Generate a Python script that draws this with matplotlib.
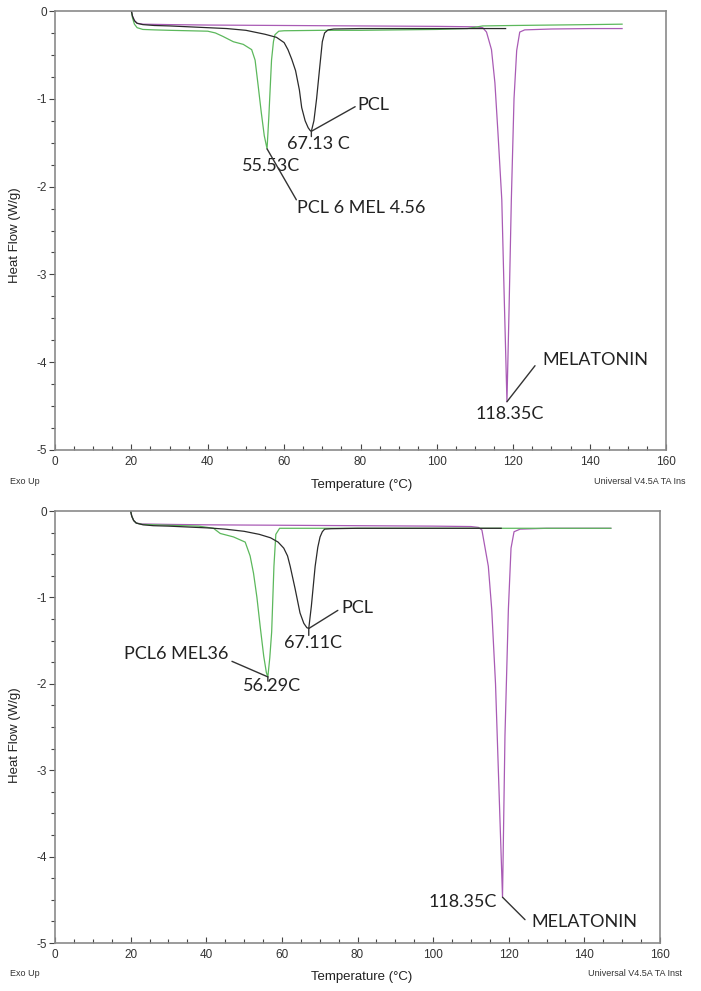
import matplotlib
matplotlib.use("Agg")
import matplotlib.pyplot as plt
import numpy as np

# ---------------- data ----------------
# Top panel
top_pcl_T = [20, 20.3, 20.8, 21.5, 23, 26, 30, 35, 40, 45, 50, 55, 58, 60, 61, 62, 63, 64, 64.6, 65.5, 66.3, 66.8, 67.13,
             67.8, 68.5, 69.3, 70.0, 70.6, 71.5, 73, 80, 90, 100, 110, 118]
top_pcl_H = [0, -0.06, -0.11, -0.14, -0.155, -0.165, -0.17, -0.18, -0.19, -0.2, -0.22, -0.265, -0.3, -0.36, -0.44, -0.55, -0.68, -0.9, -1.1, -1.25, -1.33, -1.36, -1.37,
             -1.25, -1.0, -0.65, -0.35, -0.25, -0.215, -0.205, -0.2, -0.2, -0.2, -0.2, -0.2]

top_mix_T = [20, 20.3, 20.8, 21.5, 23, 26, 30, 35, 40, 42, 44, 46.7, 49.3, 51.5, 52.4, 53.2, 54.0, 54.8, 55.53,
             56.0, 56.7, 57.2, 57.6, 58.6, 60, 70, 80, 90, 100, 108, 112, 120, 130, 140, 148.5]
top_mix_H = [0, -0.08, -0.15, -0.19, -0.21, -0.215, -0.22, -0.225, -0.23, -0.25, -0.29, -0.35, -0.38, -0.44, -0.56, -0.85, -1.15, -1.42, -1.57,
             -1.2, -0.56, -0.35, -0.27, -0.23, -0.225, -0.22, -0.22, -0.215, -0.21, -0.2, -0.17, -0.165, -0.16, -0.155, -0.15]

top_mel_T = [20, 20.3, 20.8, 21.5, 23, 30, 40, 60, 80, 100, 110, 112, 113, 114.3, 115.2, 116, 117, 117.6, 118.35,
             118.9, 119.5, 120.2, 120.9, 121.7, 123, 130, 140, 148.5]
top_mel_H = [0, -0.06, -0.11, -0.14, -0.15, -0.155, -0.16, -0.165, -0.17, -0.175, -0.18, -0.19, -0.24, -0.44, -0.82, -1.39, -2.15, -3.2, -4.45,
             -3.4, -2.15, -1.0, -0.45, -0.24, -0.215, -0.205, -0.2, -0.2]

# Bottom panel
bot_pcl_T = [20, 20.3, 20.8, 21.5, 23.3, 26, 30, 35, 41, 45, 50, 54, 57, 59, 60.5, 61.5, 62.2, 63.5, 64.8, 65.8, 66.6, 67.11,
             67.8, 68.8, 69.5, 70.1, 70.7, 71.3, 73, 80, 90, 100, 110, 118]
bot_pcl_H = [0, -0.06, -0.11, -0.14, -0.16, -0.17, -0.175, -0.185, -0.197, -0.21, -0.235, -0.27, -0.31, -0.36, -0.43, -0.52, -0.64, -0.9, -1.18, -1.3, -1.35, -1.36,
             -1.1, -0.64, -0.42, -0.3, -0.24, -0.21, -0.205, -0.2, -0.2, -0.2, -0.2, -0.2]

bot_mix_T = [20, 20.3, 20.8, 21.5, 23, 30, 38, 41.9, 43.7, 47.2, 50.3, 51.6, 52.5, 53.4, 54.3, 55.2, 55.9, 56.29,
             56.8, 57.3, 57.9, 58.4, 59.4, 62, 70, 80, 90, 100, 110, 120, 130, 140, 147]
bot_mix_H = [0, -0.06, -0.11, -0.14, -0.155, -0.165, -0.175, -0.2, -0.26, -0.3, -0.36, -0.52, -0.72, -1.0, -1.35, -1.68, -1.87, -1.92,
             -1.7, -1.4, -0.64, -0.27, -0.2, -0.2, -0.2, -0.2, -0.2, -0.2, -0.2, -0.2, -0.2, -0.2, -0.2]

bot_mel_T = [20, 20.3, 20.8, 21.5, 23, 30, 40, 60, 80, 100, 110, 112, 112.9, 114.6, 115.5, 116.5, 117.4, 118.35,
             119.0, 119.9, 120.6, 121.4, 123, 130, 140, 147]
bot_mel_H = [0, -0.06, -0.11, -0.14, -0.15, -0.155, -0.16, -0.165, -0.17, -0.175, -0.18, -0.19, -0.22, -0.64, -1.14, -2.0, -3.2, -4.47,
             -2.6, -1.14, -0.43, -0.24, -0.21, -0.2, -0.2, -0.2]

x_ticks = [0, 20, 40, 60, 80, 100, 120, 140, 160]
y_ticks = [0, -1, -2, -3, -4, -5]

# ---------------- styling ----------------
BLACK = "#2b2b2b"
GREEN = "#5cb85c"
MAGENTA = "#a95bb5"
SPINE = "#8a8a8a"
ANN_FONT = ["Lato", "DejaVu Sans"]
TICK_FONT = ["Liberation Sans", "DejaVu Sans"]

W, H = 701, 991
fig = plt.figure(figsize=(W / 100, H / 100), dpi=100)


def px_axes(l, t, r, b):
    return fig.add_axes([l / W, 1 - b / H, (r - l) / W, (b - t) / H])


def style(ax):
    ax.set_xlim(0, 160)
    ax.set_ylim(-5, 0)
    ax.set_xticks(x_ticks)
    ax.set_xticks(np.arange(0, 161, 5), minor=True)
    ax.set_yticks(y_ticks)
    ax.set_yticks(np.arange(-5, 0.01, 0.25), minor=True)
    ax.set_yticklabels([str(v) for v in y_ticks])
    for s in ax.spines.values():
        s.set_color(SPINE)
        s.set_linewidth(1.2)
    ax.tick_params(axis="x", which="both", direction="in", color="#444444", width=0.8, pad=4)
    ax.tick_params(axis="x", which="major", length=4)
    ax.tick_params(axis="x", which="minor", length=3)
    ax.tick_params(axis="y", which="both", direction="out", color="#444444", width=0.8, pad=2)
    ax.tick_params(axis="y", which="major", length=4)
    ax.tick_params(axis="y", which="minor", length=3)
    for lab in ax.get_xticklabels() + ax.get_yticklabels():
        lab.set_fontfamily(TICK_FONT)
        lab.set_fontsize(8.5)
        lab.set_color("#333333")


def ann_text(ax, x, y, s, ha="left"):
    ax.text(x, y, s, ha=ha, va="center", fontsize=13, family=ANN_FONT, color="#222222")


def leader(ax, p0, p1):
    ax.annotate("", xy=p0, xytext=p1,
                arrowprops=dict(arrowstyle="-", color="#333333", lw=1.0, shrinkA=0, shrinkB=0))


def fig_labels(y_base_px, y_mid_px, universal_x, universal_text):
    fig.text(10 / W, 1 - y_base_px / H, "Exo Up", fontsize=6.5, family=TICK_FONT, va="center", color="#333333")
    fig.text(362 / W, 1 - (y_base_px + 3) / H, "Temperature (°C)", fontsize=9.5, family=TICK_FONT,
             ha="center", va="center", color="#222222")
    fig.text(universal_x / W, 1 - y_base_px / H, universal_text, fontsize=6.5, family=TICK_FONT,
             va="center", color="#333333")
    fig.text(15 / W, 1 - y_mid_px / H, "Heat Flow (W/g)", fontsize=9.5, family=TICK_FONT, rotation=90,
             ha="center", va="center", color="#222222")


# ---------------- top panel ----------------
ax1 = px_axes(55, 11, 666, 450)
ax1.plot(top_mel_T, top_mel_H, color=MAGENTA, lw=0.9)
ax1.plot(top_mix_T, top_mix_H, color=GREEN, lw=0.9)
ax1.plot(top_pcl_T, top_pcl_H, color=BLACK, lw=0.9)
style(ax1)

leader(ax1, (67.13, -1.37), (78.6, -1.09))
ann_text(ax1, 79.1, -1.07, "PCL")
leader(ax1, (67.13, -1.37), (67.13, -1.43))
ann_text(ax1, 60.7, -1.51, "67.13 C")
ann_text(ax1, 49.0, -1.77, "55.53C")
leader(ax1, (55.53, -1.57), (63.2, -2.15))
ann_text(ax1, 63.4, -2.24, "PCL 6 MEL 4.56")
leader(ax1, (118.35, -4.45), (125.7, -4.04))
ann_text(ax1, 127.7, -3.97, "MELATONIN")
ann_text(ax1, 110.0, -4.59, "118.35C")

fig_labels(482, 235, 594, "Universal V4.5A TA Ins")

# ---------------- bottom panel ----------------
ax2 = px_axes(55, 511, 660, 943)
ax2.plot(bot_mel_T, bot_mel_H, color=MAGENTA, lw=0.9)
ax2.plot(bot_mix_T, bot_mix_H, color=GREEN, lw=0.9)
ax2.plot(bot_pcl_T, bot_pcl_H, color=BLACK, lw=0.9)
style(ax2)

leader(ax2, (67.11, -1.36), (74.8, -1.15))
ann_text(ax2, 75.7, -1.12, "PCL")
leader(ax2, (67.11, -1.36), (67.11, -1.44))
ann_text(ax2, 60.6, -1.53, "67.11C")
ann_text(ax2, 45.8, -1.66, "PCL6 MEL36", ha="right")
leader(ax2, (56.29, -1.92), (46.8, -1.74))
leader(ax2, (56.29, -1.92), (56.29, -1.97))
ann_text(ax2, 49.7, -2.02, "56.29C")
ann_text(ax2, 116.9, -4.53, "118.35C", ha="right")
leader(ax2, (118.35, -4.47), (124.3, -4.73))
ann_text(ax2, 125.9, -4.76, "MELATONIN")

fig_labels(974, 735, 588, "Universal V4.5A TA Inst")

fig.savefig("out.png", dpi=100)
